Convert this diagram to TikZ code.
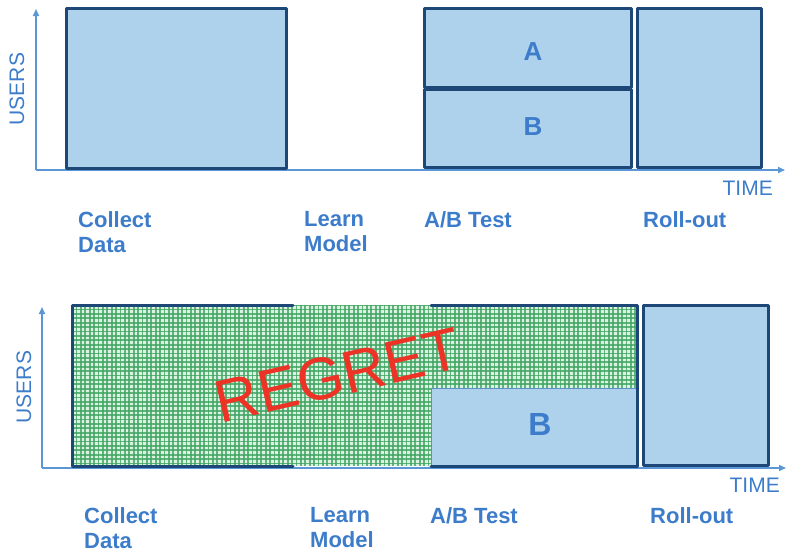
\documentclass[tikz,border=0pt]{standalone}
\usepackage{fontspec}
\setmainfont{Liberation Sans}
\usetikzlibrary{arrows.meta}

\definecolor{boxfill}{HTML}{AFD2EC}
\definecolor{boxline}{HTML}{1D4776}
\definecolor{axiscol}{HTML}{5B97D6}
\definecolor{labelcol}{HTML}{3C7CCB}
\definecolor{thinline}{HTML}{5D8FCB}
\definecolor{checkpale}{HTML}{DDF1E2}
\definecolor{checkgreen}{HTML}{3FA562}
\definecolor{regretred}{HTML}{EC3326}

\tikzset{
  phase/.style={fill=boxfill, draw=boxline, line width=3pt, line join=round},
  edge/.style={draw=boxline, line width=3pt, line cap=round, line join=round},
  axisline/.style={draw=axiscol, line width=1.6pt, -{Triangle[length=7pt,width=6pt]}},
  stage/.style={text=labelcol, font=\bfseries\fontsize{22}{25}\selectfont,
    anchor=north west, align=left, inner sep=0pt},
  axislabel/.style={text=labelcol, font=\fontsize{21}{21}\selectfont, inner sep=0pt},
  variant/.style={text=labelcol, font=\bfseries\fontsize{#1}{#1}\selectfont, inner sep=0pt},
  regretlabel/.style={text=regretred, font=\fontsize{60}{60}\selectfont, inner sep=0pt, rotate=13},
  checkline/.style={draw=checkgreen, line width=1.8pt, opacity=0.8},
}

\begin{document}
\begin{tikzpicture}[x=1pt, y=-1pt]
\useasboundingbox (0,0) rectangle (787,554);

% ---------------- upper timeline: classic A/B testing ----------------
\coordinate (o1) at (36,170);
\coordinate (y1) at (36,9);
\coordinate (x1) at (785,170);
\draw[axisline] (o1) -- (y1);
\draw[axisline] (o1) -- (x1);

\draw[phase] (66,8) rectangle (286,168);
\draw[phase] (424,8) rectangle (631,87);
\draw[phase] (424,89) rectangle (631,167);
\draw[phase] (637,8) rectangle (761,167);

\node[variant=26] (a1) at (533,52) {A};
\node[variant=26] (b1) at (533,127) {B};

\node[axislabel, rotate=90] (users1) at (17,89) {USERS};
\node[axislabel, anchor=north east] (time1) at (773,181) {TIME};

\node[stage] (collect1) at (78,211) {Collect\\Data};
\node[stage] (learn1) at (304,211) {Learn\\Model};
\node[stage] (ab1) at (424,211) {A/B Test};
\node[stage] (roll1) at (643,211) {Roll-out};

% ---------------- lower timeline: regret of the exploration phase ----------------
\coordinate (o2) at (42,468);
\coordinate (y2) at (42,307);
\coordinate (x2) at (786,468);
\draw[axisline] (o2) -- (y2);
\draw[axisline] (o2) -- (x2);

% checkered regret area
\begin{scope}
  \clip (72,305) -- (637,305) -- (637,388) -- (431,388) -- (431,466) -- (72,466) -- cycle;
  \fill[checkpale] (72,305) rectangle (637,466);
  \foreach \gx in {72,76.4,...,640} {
    \draw[checkline] (\gx,305) -- (\gx,466);
  }
  \foreach \gy in {305,309.4,...,470} {
    \draw[checkline] (72,\gy) -- (637,\gy);
  }
\end{scope}

% variant B keeps running
\draw[fill=boxfill, draw=thinline, line width=1pt] (431,466) -- (431,388) -- (637,388) -- (637,466) -- cycle;

% outlines of the phases
\draw[edge] (293,305) -- (72,305) -- (72,466) -- (293,466);
\draw[edge] (431,305) -- (637,305) -- (637,466) -- (431,466);
\draw[phase] (643,305) rectangle (768,465);

\node[variant=32] (b2) at (540,424) {B};
\node[regretlabel] (regret) at (338,375) {REGRET};

\node[axislabel, rotate=90] (users2) at (24,387) {USERS};
\node[axislabel, anchor=north east] (time2) at (780,478) {TIME};

\node[stage] (collect2) at (84,507) {Collect\\Data};
\node[stage] (learn2) at (310,507) {Learn\\Model};
\node[stage] (ab2) at (430,507) {A/B Test};
\node[stage] (roll2) at (650,507) {Roll-out};
\end{tikzpicture}
\end{document}
